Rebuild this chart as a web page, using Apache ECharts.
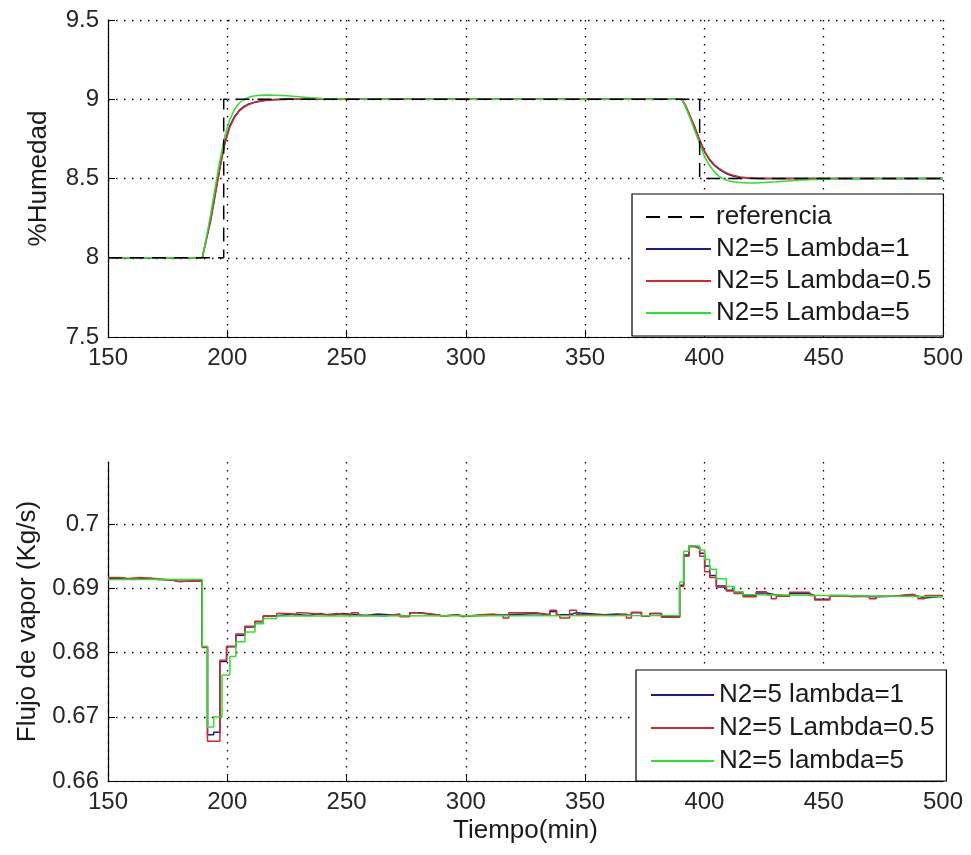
<!DOCTYPE html>
<html>
<head>
<meta charset="utf-8">
<script src="https://cdn.jsdelivr.net/npm/echarts@6/dist/echarts.min.js"></script>
<style>
html,body{margin:0;padding:0;background:#fff;}
#chart{width:971px;height:855px;}
</style>
</head>
<body>
<div id="chart"></div>
<script>
// ---------- DATA ----------
var xTicks = [150, 200, 250, 300, 350, 400, 450, 500];

// Top plot (%Humedad)
var refT = [150, 198.5, 198.5, 398, 398, 500];
var refV = [8, 8, 9, 9, 8.5, 8.5];

var topT = [150, 189.5, 191, 193, 195, 197, 199, 201, 203, 205, 207, 209, 211, 214, 217, 220, 225, 230, 235, 240, 250, 300, 350,
            390.5, 392, 394, 396, 398, 400, 402, 404, 406, 408, 410, 412, 415, 418, 421, 425, 430, 435, 440, 450, 460, 500];
var topBlue = [8, 8, 8.1, 8.24, 8.41, 8.58, 8.73, 8.83, 8.89, 8.93, 8.955, 8.97, 8.98, 8.99, 8.995, 8.998, 9, 9, 9, 9, 9, 9, 9,
            9, 8.96, 8.89, 8.82, 8.74, 8.67, 8.62, 8.585, 8.56, 8.54, 8.525, 8.515, 8.507, 8.503, 8.501, 8.5, 8.5, 8.5, 8.5, 8.5, 8.5, 8.5];
var topRed = [8, 8, 8.1, 8.23, 8.4, 8.57, 8.72, 8.82, 8.885, 8.925, 8.95, 8.967, 8.978, 8.988, 8.994, 8.997, 9, 9, 9, 9, 9, 9, 9,
            9, 8.965, 8.895, 8.825, 8.745, 8.675, 8.625, 8.59, 8.565, 8.545, 8.53, 8.52, 8.51, 8.505, 8.502, 8.5, 8.5, 8.5, 8.5, 8.5, 8.5, 8.5];
var topGreen = [8, 8, 8.11, 8.27, 8.45, 8.62, 8.77, 8.87, 8.935, 8.975, 9, 9.012, 9.02, 9.025, 9.027, 9.026, 9.022, 9.016, 9.01, 9.005, 9.001, 9, 9,
            9, 8.955, 8.88, 8.8, 8.72, 8.64, 8.585, 8.545, 8.515, 8.497, 8.486, 8.48, 8.475, 8.472, 8.472, 8.474, 8.479, 8.485, 8.49, 8.496, 8.499, 8.5];

// Bottom plot (Flujo de vapor) – change points of the stair signals
var botBlueT = [150, 157, 160, 167.6, 171, 176.7, 179.5, 189.5, 191.7, 194.3, 196.9, 199.7, 203.6, 207.4, 211.6, 215.1, 220.7, 227, 234, 239, 243, 248, 258, 263,
                272.3, 276.5, 281, 287.7, 290.5, 296.6, 298.7, 318, 329.6, 335.2, 338, 343.5, 346.4, 358, 364, 369.4, 373.6, 377.1, 382,
                389.6, 391.3, 393.5, 396, 398, 400.1, 402.2, 405, 409.2, 412.5, 416.2, 421.7, 426, 430.1, 435.7, 444.1, 446.2, 452.5, 459.5, 466.5, 472, 479, 487.4, 489.5, 492.3, 500];
var botBlueV = [0.6916, 0.6914, 0.6916, 0.6914, 0.6913, 0.6911, 0.6912, 0.6809, 0.6672, 0.6676, 0.6786, 0.6809, 0.6827, 0.6840, 0.6848, 0.6857, 0.6860, 0.6858, 0.6861, 0.6858, 0.6861, 0.6858, 0.6860, 0.6858,
                0.6857, 0.6862, 0.6859, 0.6857, 0.6859, 0.6857, 0.6859, 0.6861, 0.6859, 0.6864, 0.6859, 0.6862, 0.6859, 0.6860, 0.6858, 0.6862, 0.6857, 0.6861, 0.6856,
                0.6905, 0.6952, 0.6966, 0.6964, 0.6955, 0.6935, 0.6920, 0.6904, 0.6897, 0.6893, 0.6889, 0.6893, 0.6890, 0.6888, 0.6892, 0.6889, 0.6883, 0.6889, 0.6888, 0.6887, 0.6888, 0.6890, 0.6888, 0.6885, 0.6888, 0.6888];

var botRedT = [150, 155, 158, 163, 167.6, 171, 176.7, 179.5, 189.5, 191.7, 196.9, 199.7, 203.6, 207.4, 211.6, 215.1, 220.7, 226, 229, 232, 241, 246, 252, 255, 262, 266,
               272.3, 276.5, 279.3, 287.7, 290.5, 296.6, 298.7, 306, 312, 315.6, 318, 329.6, 335.2, 338, 339.4, 343.5, 346.4, 355, 362, 367.3, 369.4, 373.6, 377.1, 382,
               389.6, 391.3, 393.5, 396, 398, 400.1, 402.2, 405, 409.2, 412.5, 416.2, 421.7, 426, 428, 430.1, 435.7, 444.1, 446.2, 452.5, 459.5, 462.3, 469.2, 472, 479, 487.4, 489.5, 492.3, 500];
var botRedV = [0.6917, 0.6915, 0.6917, 0.6916, 0.6915, 0.6913, 0.6911, 0.6912, 0.6808, 0.6662, 0.6788, 0.6810, 0.6829, 0.6841, 0.6849, 0.6857, 0.6861, 0.6858, 0.6862, 0.6859, 0.6861, 0.6858, 0.6862, 0.6858, 0.6857, 0.6860,
               0.6856, 0.6862, 0.6859, 0.6857, 0.6859, 0.6856, 0.6859, 0.6860, 0.6858, 0.6854, 0.6862, 0.6859, 0.6866, 0.6859, 0.6854, 0.6866, 0.6859, 0.6858, 0.6860, 0.6854, 0.6863, 0.6857, 0.6861, 0.6855,
               0.6903, 0.6950, 0.6965, 0.6962, 0.6950, 0.6926, 0.6917, 0.6902, 0.6896, 0.6892, 0.6887, 0.6895, 0.6890, 0.6884, 0.6888, 0.6894, 0.6889, 0.6882, 0.6888, 0.6887, 0.6888, 0.6884, 0.6888, 0.6891, 0.6888, 0.6884, 0.6889, 0.6889];

var botGreenT = [150, 189.5, 191.7, 194.3, 197.8, 201.1, 203.6, 207.4, 211.6, 215.1, 220.7, 230.4,
                 389.6, 391.3, 393.5, 398, 400.1, 402.2, 405, 409.2, 412.5, 416.2, 421.7, 500];
var botGreenV = [0.6914, 0.6810, 0.6684, 0.6700, 0.6765, 0.6794, 0.6817, 0.6832, 0.6845, 0.6853, 0.6857, 0.6858,
                 0.6910, 0.6958, 0.6966, 0.6960, 0.6945, 0.6930, 0.6915, 0.6903, 0.6895, 0.6890, 0.6887, 0.6887];

var topNames = ['referencia', 'N2=5 Lambda=1', 'N2=5 Lambda=0.5', 'N2=5 Lambda=5'];
var botNames = ['N2=5 lambda=1', 'N2=5 Lambda=0.5', 'N2=5 lambda=5'];

// ---------- HELPERS ----------
function pairs(t, v) { return t.map(function (x, i) { return [x, v[i]]; }); }

var FONT = 'Liberation Sans, Arial, sans-serif';
var C_BLUE = '#1c1c8e', C_RED = '#d02a2a', C_GREEN = '#2ee02e';

function xAxisCfg(gi, name) {
  return {
    type: 'value', gridIndex: gi, min: 150, max: 500, interval: 50,
    name: name || '', nameLocation: 'middle', nameGap: 37,
    nameTextStyle: { fontFamily: FONT, fontSize: 26, color: '#1a1a1a' },
    axisLine: { show: true, onZero: false, lineStyle: { color: '#000', width: 1.2 } },
    axisTick: { show: true, inside: true, length: 7, lineStyle: { color: '#000' } },
    axisLabel: { fontFamily: FONT, fontSize: 24, color: '#262626', margin: 9 },
    splitLine: { show: true, lineStyle: { color: '#000', type: [1.5, 6.5], width: 1.3 } }
  };
}
function yAxisCfg(gi, min, max, interval, name, gap) {
  return {
    type: 'value', gridIndex: gi, min: min, max: max, interval: interval,
    name: name, nameLocation: 'middle', nameGap: gap, nameRotate: 90,
    nameTextStyle: { fontFamily: FONT, fontSize: 26, color: '#1a1a1a' },
    axisLine: { show: true, onZero: false, lineStyle: { color: '#000', width: 1.2 } },
    axisTick: { show: true, inside: true, length: 7, lineStyle: { color: '#000' } },
    axisLabel: { fontFamily: FONT, fontSize: 24, color: '#262626', margin: 9 },
    splitLine: { show: true, lineStyle: { color: '#000', type: [1.5, 6.5], width: 1.3 } }
  };
}
function lineSeries(name, gi, data, color, opts) {
  var s = {
    name: name, type: 'line', xAxisIndex: gi, yAxisIndex: gi, data: data,
    symbol: 'none', showSymbol: false, smooth: false, silent: true,
    lineStyle: { color: color, width: 1.5 }, itemStyle: { color: color }
  };
  if (opts) { for (var k in opts) s[k] = opts[k]; }
  return s;
}

var legendText = { fontFamily: FONT, fontSize: 26, color: '#1a1a1a', lineHeight: 30 };

var option = {
  animation: false,
  backgroundColor: '#fff',
  grid: [
    { left: 108, top: 20, width: 835, height: 317, containLabel: false },
    { left: 108, top: 462, width: 835, height: 319, containLabel: false }
  ],
  xAxis: [xAxisCfg(0), xAxisCfg(1, 'Tiempo(min)')],
  yAxis: [
    yAxisCfg(0, 7.5, 9.5, 0.5, '%Humedad', 56),
    yAxisCfg(1, 0.66, 0.7097, 0.01, 'Flujo de vapor (Kg/s)', 67)
  ],
  legend: [
    {
      data: topNames, orient: 'vertical', left: 632, top: 194,
      itemWidth: 65, itemHeight: 14, itemGap: 2,
      padding: [8, 12, 8, 13],
      itemStyle: { opacity: 0 },
      backgroundColor: '#fff', borderColor: '#000', borderWidth: 1.2, borderRadius: 0,
      textStyle: legendText, selectedMode: false, z: 10
    },
    {
      data: botNames, orient: 'vertical', left: 636, top: 670,
      itemWidth: 63, itemHeight: 14, itemGap: 3,
      padding: [10, 12, 5, 14],
      itemStyle: { opacity: 0 },
      backgroundColor: '#fff', borderColor: '#000', borderWidth: 1.2, borderRadius: 0,
      textStyle: legendText, selectedMode: false, z: 10
    }
  ],
  series: [
    lineSeries('N2=5 Lambda=1', 0, pairs(topT, topBlue), C_BLUE),
    lineSeries('N2=5 Lambda=0.5', 0, pairs(topT, topRed), C_RED),
    lineSeries('N2=5 Lambda=5', 0, pairs(topT, topGreen), C_GREEN),
    lineSeries('referencia', 0, pairs(refT, refV), '#000', { lineStyle: { color: '#000', width: 1.5, type: [14, 8] } }),
    lineSeries('N2=5 lambda=1', 1, pairs(botBlueT, botBlueV), C_BLUE, { step: 'end' }),
    lineSeries('N2=5 Lambda=0.5', 1, pairs(botRedT, botRedV), C_RED, { step: 'end' }),
    lineSeries('N2=5 lambda=5', 1, pairs(botGreenT, botGreenV), C_GREEN, { step: 'end' })
  ]
};
// hide the non-tick top label of the lower value axis and its dotted top line
option.yAxis[1].axisLabel.showMaxLabel = false;
option.yAxis[1].splitLine.showMaxLine = false;

var chart = echarts.init(document.getElementById('chart'), null, { renderer: 'canvas' });
chart.setOption(option);
</script>
</body>
</html>
